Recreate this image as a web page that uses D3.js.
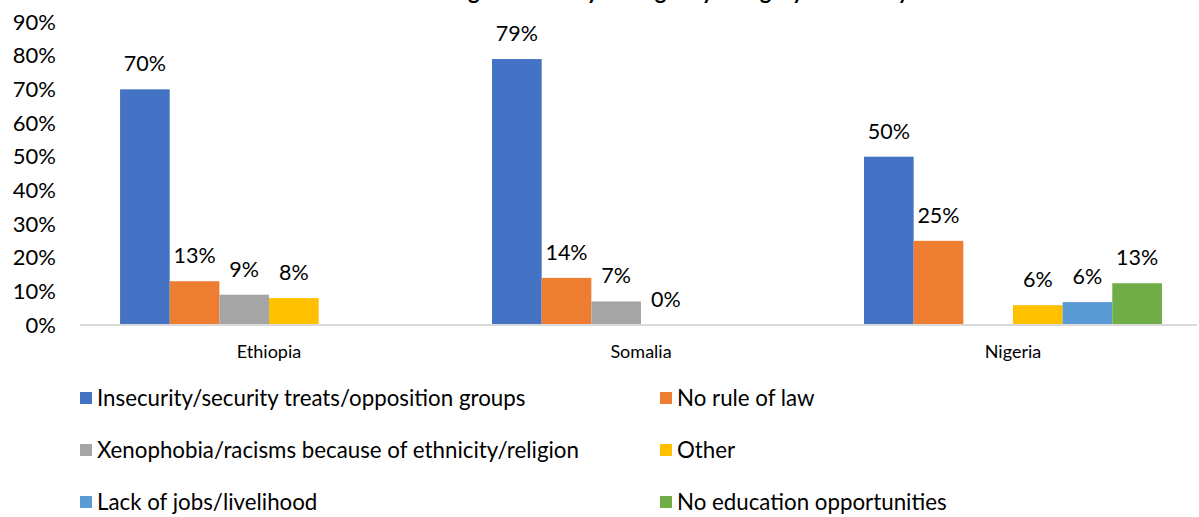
<!DOCTYPE html>
<html>
<head>
<meta charset="utf-8">
<script src="https://cdn.jsdelivr.net/npm/d3@7"></script>
<style>
  body { margin: 0; background: #fff; }
  svg { font-family: Lato, "Open Sans", sans-serif; }
</style>
</head>
<body>
<svg id="chart" width="1199" height="517"></svg>
<script>
const countries = ["Ethiopia", "Somalia", "Nigeria"];
const reasons = [
    "Insecurity/security treats/opposition groups",
    "No rule of law",
    "Xenophobia/racisms because of ethnicity/religion",
    "Other",
    "Lack of jobs/livelihood",
    "No education opportunities"
];
const colors = ["#4472C4", "#ED7D31", "#A5A5A5", "#FFC000", "#5B9BD5", "#70AD47"];

// bar heights per country, in reason order (null = not shown)
const values = {
    Ethiopia: [0.70, 0.13, 0.09, 0.08, null, null],
    Somalia:  [0.79, 0.14, 0.07, 0.00, null, null],
    Nigeria:  [0.50, 0.25, null, 0.059, 0.068, 0.124]
};
const labels = {
    Ethiopia: ["70%", "13%", "9%", "8%", null, null],
    Somalia:  ["79%", "14%", "7%", "0%", null, null],
    Nigeria:  ["50%", "25%", null, "6%", "6%", "13%"]
};
const yTicks = [0, 0.1, 0.2, 0.3, 0.4, 0.5, 0.6, 0.7, 0.8, 0.9];

const margin = { top: 22, right: 2, bottom: 192, left: 81 },
      width = 1199 - margin.left - margin.right,
      height = 517 - margin.top - margin.bottom;

const svg = d3.select("#chart");

// title sits above the top edge, only its descenders show (as in the source)
svg.append("text")
    .attr("x", 600)
    .attr("y", -1)
    .attr("text-anchor", "middle")
    .attr("font-weight", "bold")
    .attr("font-size", 22)
    .text("Reasons for leaving the country of origin by category of country");

const g = svg.append("g")
    .attr("transform", `translate(${margin.left},${margin.top})`);

const x0 = d3.scaleBand()
    .domain(countries)
    .range([0, width + 4])
    .paddingInner(0.199)
    .paddingOuter(0.105);

const x1 = d3.scaleBand()
    .domain(d3.range(reasons.length))
    .range([0, x0.bandwidth()])
    .padding(0);

const y = d3.scaleLinear()
    .domain([0, 0.9])
    .range([height, 0]);

// y axis labels
g.append("g")
    .call(d3.axisLeft(y).tickValues(yTicks).tickFormat(d3.format(".0%")).tickSize(0).tickPadding(25))
    .call(a => a.select(".domain").remove())
    .selectAll("text")
    .attr("font-family", "Lato, sans-serif")
    .attr("font-size", 22)
    .attr("fill", "#000");

// bars
countries.forEach(c => {
    const grp = g.append("g").attr("transform", `translate(${x0(c)},0)`);
    values[c].forEach((v, i) => {
        if (v === null) return;
        grp.append("rect")
            .attr("x", x1(i))
            .attr("y", y(v))
            .attr("width", x1.bandwidth())
            .attr("height", y(0) - y(v))
            .attr("fill", colors[i]);
    });
    labels[c].forEach((t, i) => {
        if (t === null) return;
        grp.append("text")
            .attr("x", x1(i) + x1.bandwidth() / 2)
            .attr("y", y(values[c][i]) - 18)
            .attr("text-anchor", "middle")
            .attr("font-size", 21.5)
            .attr("fill", "#000")
            .text(t);
    });
});

// x axis
const xAxis = g.append("g")
    .attr("transform", `translate(0,${height})`)
    .call(d3.axisBottom(x0).tickSize(0).tickPadding(20).tickSizeOuter(0));
xAxis.select(".domain").attr("stroke", "#d9d9d9").attr("stroke-width", 2)
    .attr("d", `M-1,0H${width}`);
xAxis.selectAll("text")
    .attr("font-family", "Lato, sans-serif")
    .attr("font-size", 18)
    .attr("fill", "#000");

// legend, two columns
const legendCols = [80, 660],
      legendRows = [398, 450, 502];
const legend = svg.append("g");
reasons.forEach((r, i) => {
    const lx = legendCols[i % 2],
          ly = legendRows[Math.floor(i / 2)];
    legend.append("rect")
        .attr("x", lx)
        .attr("y", ly - 6)
        .attr("width", 12)
        .attr("height", 12)
        .attr("fill", colors[i]);
    legend.append("text")
        .attr("x", lx + 17)
        .attr("y", ly)
        .attr("dy", "0.35em")
        .attr("font-size", 22.3)
        .attr("fill", "#000")
        .text(r);
});
</script>
</body>
</html>
